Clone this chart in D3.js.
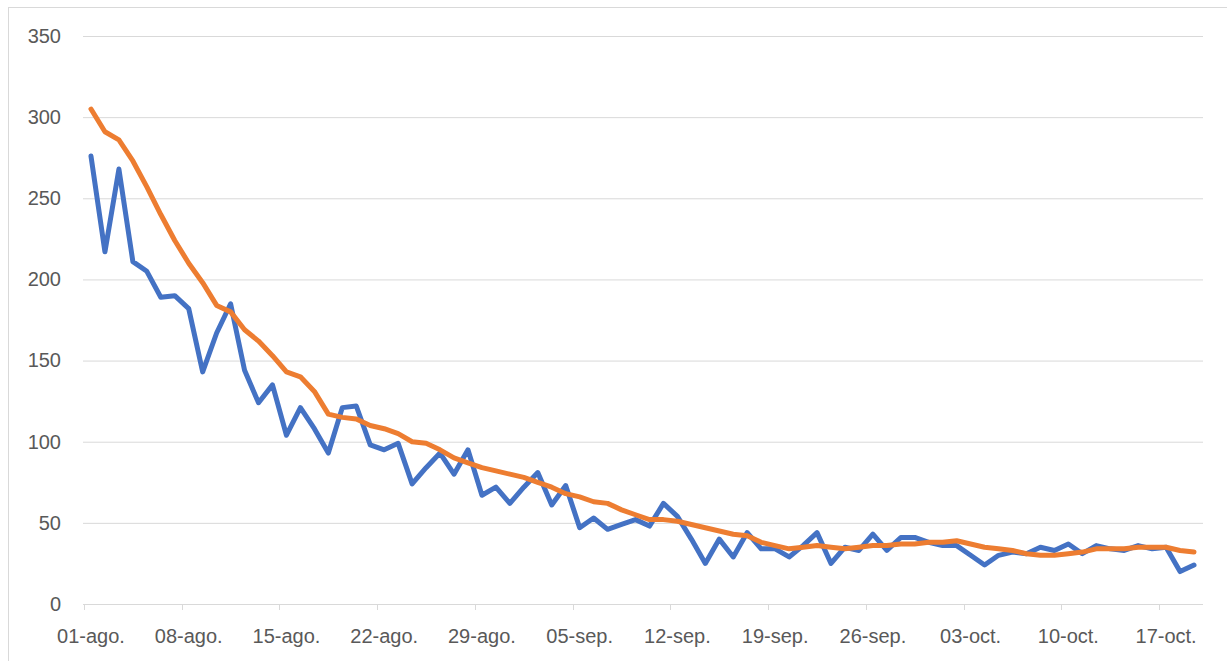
<!DOCTYPE html>
<html>
<head>
<meta charset="utf-8">
<script src="https://cdn.jsdelivr.net/npm/d3@7"></script>
<style>
  body { margin: 0; background: #fff; }
  svg { display: block; font-family: "Liberation Sans", Arial, sans-serif; }
</style>
</head>
<body>
<svg id="canvas" width="1227" height="661"></svg>
<script>
// daily values, 01-ago to 19-oct
let startDay = new Date(2020, 7, 1)
let endDay = new Date(2020, 9, 20)

let daily = [276, 217, 268, 211, 205, 189, 190, 182, 143, 167,
             185, 144, 124, 135, 104, 121, 108, 93, 121, 122,
             98, 95, 99, 74, 84, 93, 80, 95, 67, 72,
             62, 72, 81, 61, 73, 47, 53, 46, 49, 52,
             48, 62, 54, 40, 25, 40, 29, 44, 34, 34,
             29, 36, 44, 25, 35, 33, 43, 33, 41, 41,
             38, 36, 36, 30, 24, 30, 32, 31, 35, 33,
             37, 31, 36, 34, 33, 36, 34, 35, 20, 24]

let average = [305, 291, 286, 273, 257, 240, 224, 210, 198, 184,
               180, 169, 162, 153, 143, 140, 131, 117, 115, 114,
               110, 108, 105, 100, 99, 95, 90, 87, 84, 82,
               80, 78, 75, 72, 68, 66, 63, 62, 58, 55,
               52, 52, 51, 49, 47, 45, 43, 42, 38, 36,
               34, 35, 36, 35, 34, 35, 36, 36, 37, 37,
               38, 38, 39, 37, 35, 34, 33, 31, 30, 30,
               31, 32, 34, 34, 34, 35, 35, 35, 33, 32]

let tickLabels = ['01-ago.', '08-ago.', '15-ago.', '22-ago.', '29-ago.', '05-sep.',
                  '12-sep.', '19-sep.', '26-sep.', '03-oct.', '10-oct.', '17-oct.']
let yTicks = [0, 50, 100, 150, 200, 250, 300, 350]

let canvas = d3.select('#canvas')

let days = d3.timeDay.range(startDay, endDay)
let weekDays = days.filter((d, i) => i % 7 === 0)

let plotLeft = 84, plotRight = 1201, plotTop = 36, plotBottom = 604

let x = d3.scaleBand()
    .domain(days)
    .range([plotLeft, plotRight])
    .padding(0)

let y = d3.scaleLinear()
    .domain([0, 350])
    .range([plotBottom, plotTop])

let xMid = (d) => x(d) + x.bandwidth() / 2

// chart border
canvas.append('rect')
    .attr('x', 8.5).attr('y', 7.5)
    .attr('width', 1240).attr('height', 680)
    .attr('fill', 'none')
    .attr('stroke', '#d9d9d9')

// gridlines + y labels
let yAxis = canvas.append('g')
    .attr('transform', 'translate(' + plotLeft + ',0)')
    .call(d3.axisLeft(y)
        .tickValues(yTicks)
        .tickSize(-(plotRight - plotLeft + 2))
        .tickPadding(23))
yAxis.select('.domain').remove()
yAxis.selectAll('.tick line')
    .attr('stroke', '#d9d9d9')
    .attr('x1', -1)
yAxis.selectAll('.tick text')
    .attr('fill', '#595959')
    .style('font-size', '20px')

// x axis: ticks on band edges, labels under the points
canvas.selectAll('.xtick')
    .data(weekDays)
    .enter()
    .append('line')
    .attr('class', 'xtick')
    .attr('x1', (d) => Math.round(x(d)) + 0.5)
    .attr('x2', (d) => Math.round(x(d)) + 0.5)
    .attr('y1', plotBottom)
    .attr('y2', plotBottom + 6)
    .attr('stroke', '#d9d9d9')

canvas.selectAll('.xlabel')
    .data(weekDays)
    .enter()
    .append('text')
    .attr('class', 'xlabel')
    .attr('x', (d) => xMid(d))
    .attr('y', 643)
    .attr('text-anchor', 'middle')
    .attr('fill', '#595959')
    .style('font-size', '20px')
    .text((d, i) => tickLabels[i])

let line = (values) => d3.line()
    .x((d, i) => xMid(days[i]))
    .y((d) => y(d))(values)

canvas.append('path')
    .attr('d', line(daily))
    .attr('fill', 'none')
    .attr('stroke', '#4472c4')
    .attr('stroke-width', 5)
    .attr('stroke-linejoin', 'round')
    .attr('stroke-linecap', 'round')

canvas.append('path')
    .attr('d', line(average))
    .attr('fill', 'none')
    .attr('stroke', '#ed7d31')
    .attr('stroke-width', 5)
    .attr('stroke-linejoin', 'round')
    .attr('stroke-linecap', 'round')
</script>
</body>
</html>
